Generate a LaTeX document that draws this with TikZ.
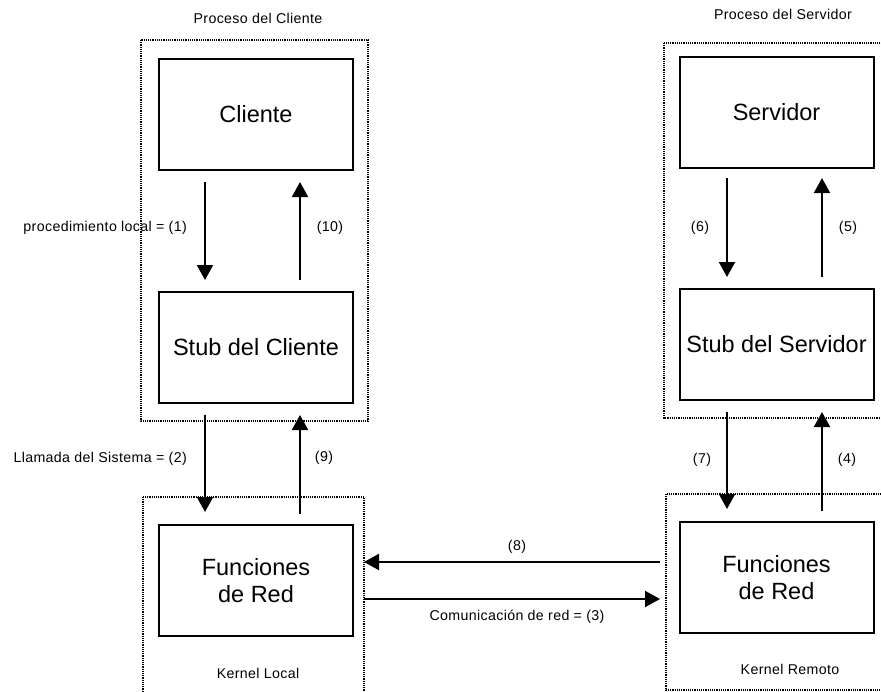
\documentclass[tikz,border=0pt]{standalone}
\usepackage{fontspec}
\setmainfont{Liberation Sans}
\newfontfamily\lblfont[LetterSpace=2.5]{Liberation Sans}
\usetikzlibrary{arrows.meta}
\begin{document}
\begin{tikzpicture}[x=1pt,y=-1pt,
  procbox/.style={draw,line width=2pt,minimum width=194pt,minimum height=111pt,inner sep=0pt,align=center,font=\fontsize{23.5}{27}\selectfont},
  groupbox/.style={draw,line width=1.6pt,dash pattern=on 1.2pt off 1pt},
  lbl/.style={font=\lblfont\fontsize{14.2}{16}\selectfont,inner sep=0pt},
  flow/.style={line width=2pt,-{Triangle[width=16pt,length=15pt]}}]
\useasboundingbox (0,0) rectangle (881,691);
\clip (0,0) rectangle (881,691);
\fill[white] (0,0) rectangle (881,691);
% group boxes
\draw[groupbox] (141,40) rectangle (368,421);
\draw[groupbox] (143,497) rectangle (364,700);
\draw[groupbox] (664,43) rectangle (890,418);
\draw[groupbox] (666,494) rectangle (890,690);
% group labels
\node[lbl] (pc) at (258,18) {Proceso del Cliente};
\node[lbl] (ps) at (783,14) {Proceso del Servidor};
\node[lbl] (kl) at (258,673) {Kernel Local};
\node[lbl] (kr) at (790,669) {Kernel Remoto};
% main boxes
\node[procbox] (cli) at (256,114.5) {Cliente};
\node[procbox] (scli) at (256,347.5) {Stub del Cliente};
\node[procbox] (fl) at (256,580.5) {Funciones\\de Red};
\node[procbox] (srv) at (776.5,112) {Servidor};
\node[procbox] (ssrv) at (776.5,344.5) {Stub del Servidor};
\node[procbox] (fr) at (776.5,577.5) {Funciones\\de Red};
% arrow end coordinates
\coordinate (a1s) at (205,182); \coordinate (a1e) at (205,280);
\coordinate (a10s) at (300,280); \coordinate (a10e) at (300,182);
\coordinate (a2s) at (205,415); \coordinate (a2e) at (205,512);
\coordinate (a9s) at (300,514); \coordinate (a9e) at (300,415);
\coordinate (a6s) at (727,178); \coordinate (a6e) at (727,277);
\coordinate (a5s) at (822,277); \coordinate (a5e) at (822,178);
\coordinate (a7s) at (727,412); \coordinate (a7e) at (727,509);
\coordinate (a4s) at (822,511); \coordinate (a4e) at (822,412);
\coordinate (a8s) at (660,562); \coordinate (a8e) at (364,562);
\coordinate (a3s) at (364,599); \coordinate (a3e) at (660,599);
\draw[flow] (a1s) -- (a1e);
\draw[flow] (a10s) -- (a10e);
\draw[flow] (a2s) -- (a2e);
\draw[flow] (a9s) -- (a9e);
\draw[flow] (a6s) -- (a6e);
\draw[flow] (a5s) -- (a5e);
\draw[flow] (a7s) -- (a7e);
\draw[flow] (a4s) -- (a4e);
\draw[flow] (a8s) -- (a8e);
\draw[flow] (a3s) -- (a3e);
% arrow labels
\node[lbl,anchor=east] (l1) at (187,228) {procedimiento local = (1)};
\node[lbl] (l10) at (330,228) {(10)};
\node[lbl,anchor=east] (l2) at (187,459) {Llamada del Sistema = (2)};
\node[lbl] (l9) at (324,458) {(9)};
\node[lbl] (l6) at (700,228) {(6)};
\node[lbl] (l5) at (848,228) {(5)};
\node[lbl] (l7) at (702,460) {(7)};
\node[lbl] (l4) at (847,460) {(4)};
\node[lbl] (l8) at (517,547) {(8)};
\node[lbl] (l3) at (517,617) {Comunicación de red = (3)};
\end{tikzpicture}
\end{document}
